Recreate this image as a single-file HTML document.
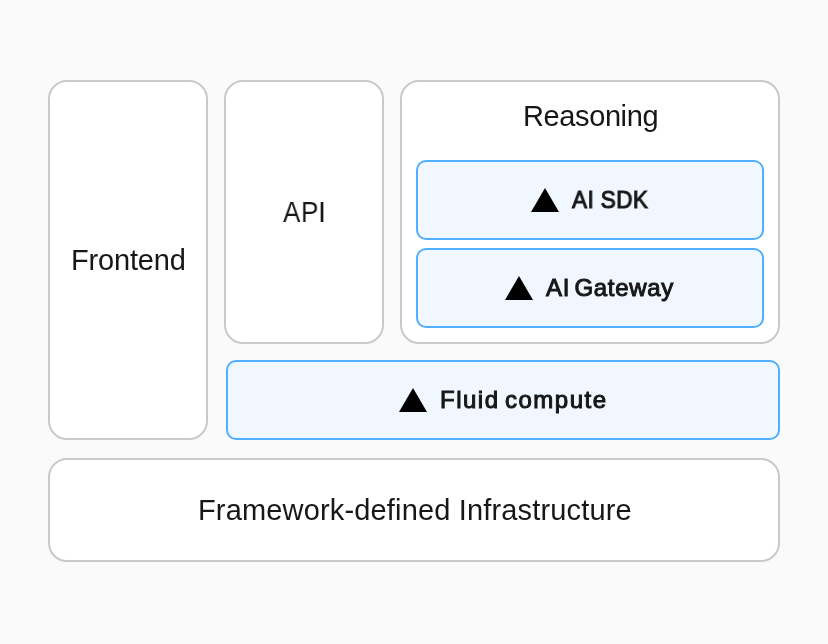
<!DOCTYPE html>
<html>
<head>
<meta charset="utf-8">
<style>
html,body{margin:0;padding:0;}
body{width:828px;height:644px;background:#fafafa;position:relative;overflow:hidden;font-family:"Liberation Sans",sans-serif;color:#171717;}
.b{position:absolute;box-sizing:border-box;border:2px solid #c9c9c9;background:#fff;border-radius:19px;}
.bl{position:absolute;box-sizing:border-box;border:2px solid #52aeff;background:#f0f7ff;border-radius:10px;}
.t{position:absolute;white-space:nowrap;line-height:1;will-change:transform;}
.r{font-size:29px;font-weight:400;}
.k{font-size:24px;font-weight:400;-webkit-text-stroke:1px #171717;}
svg{position:absolute;}
</style>
</head>
<body>
<div class="b" style="left:48px;top:80px;width:160px;height:360px;"></div>
<div class="b" style="left:224px;top:80px;width:160px;height:264px;"></div>
<div class="b" style="left:400px;top:80px;width:380px;height:264px;"></div>
<div class="bl" style="left:416px;top:160px;width:348px;height:80px;"></div>
<div class="bl" style="left:416px;top:248px;width:348px;height:80px;"></div>
<div class="bl" style="left:226px;top:360px;width:554px;height:80px;"></div>
<div class="b" style="left:48px;top:458px;width:732px;height:104px;"></div>

<span class="t r" style="left:70.7px;top:246px;letter-spacing:-0.18px;">Frontend</span>
<span class="t r" style="left:283px;top:198px;transform:scaleX(0.9);transform-origin:0 0;">A</span><span class="t r" style="left:301px;top:198px;transform:scaleX(0.9);transform-origin:0 0;">P</span><span class="t r" style="left:318px;top:198px;">I</span>
<span class="t r" style="left:523px;top:102px;letter-spacing:-0.39px;">Reasoning</span>
<span class="t r" style="left:197.7px;top:496px;letter-spacing:0.16px;">Framework-defined Infrastructure</span>

<svg style="left:531px;top:188px;" width="28" height="24" viewBox="0 0 28 24"><path d="M14 0 L28 24 L0 24 Z" fill="#000"/></svg>
<span class="t k" style="left:572px;top:188px;letter-spacing:0.4px;transform:scaleX(0.94);transform-origin:0 0;">AI SDK</span>
<svg style="left:505px;top:276px;" width="28" height="24" viewBox="0 0 28 24"><path d="M14 0 L28 24 L0 24 Z" fill="#000"/></svg>
<span class="t k" style="left:546px;top:276px;letter-spacing:0.69px;word-spacing:-3px;">AI Gateway</span>
<svg style="left:399px;top:388px;" width="28" height="24" viewBox="0 0 28 24"><path d="M14 0 L28 24 L0 24 Z" fill="#000"/></svg>
<span class="t k" style="left:440px;top:388px;letter-spacing:1.5px;word-spacing:-2.7px;">Fluid compute</span>
</body>
</html>
